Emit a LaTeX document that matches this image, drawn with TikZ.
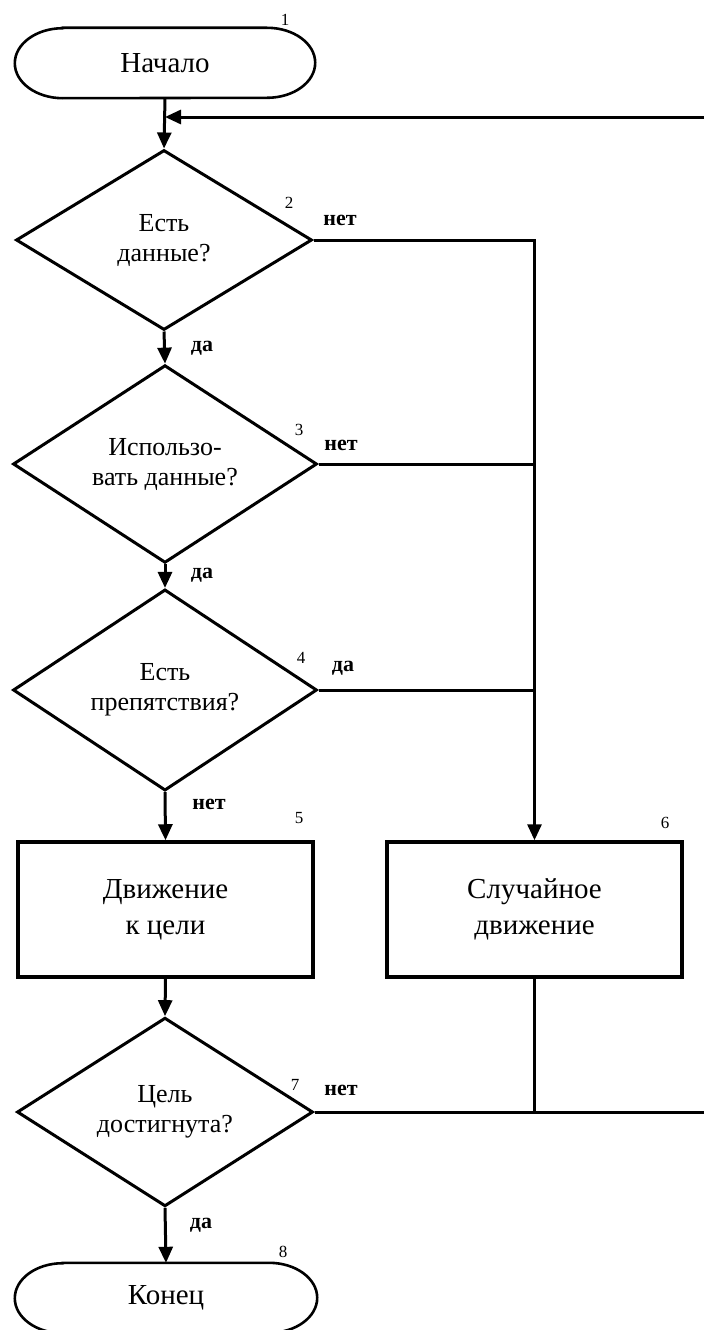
\documentclass[tikz,border=0pt]{standalone}
\usepackage{fontspec}
\setmainfont{Liberation Serif}
\usetikzlibrary{shapes.geometric,arrows.meta}
\tikzset{
  conn/.style={line width=3pt},
  arr/.style={line width=3pt,-{Triangle[width=14pt,length=16pt]}},
  decision/.style={diamond,draw,line width=3pt,inner sep=0pt,align=center,
    minimum width=300pt,minimum height=182pt,font=\fontsize{26}{30}\selectfont},
  process/.style={rectangle,draw,line width=3.5pt,minimum width=295pt,
    minimum height=135pt,align=center,font=\fontsize{29}{36}\selectfont},
  term/.style={minimum width=300pt,minimum height=70pt,inner sep=0pt,
    font=\fontsize{29}{34}\selectfont},
  termline/.style={line width=2.6pt},
  num/.style={font=\fontsize{17}{17}\selectfont,inner sep=0pt},
  ans/.style={font=\bfseries\fontsize{22}{22}\selectfont,inner sep=0pt},
}
\begin{document}
\begin{tikzpicture}[x=1pt,y=1pt]
\useasboundingbox (0,0) rectangle (704,-1330);
\clip (0,0) rectangle (704,-1330);

% start terminal
\node[term] (start) at (165,-63) {Начало};
\draw[termline] ([xshift=48pt]start.north west) -- ([xshift=-48pt]start.north east)
  arc[start angle=90,end angle=-90,x radius=48pt,y radius=35pt]
  -- ([xshift=48pt]start.south west)
  arc[start angle=270,end angle=90,x radius=48pt,y radius=35pt] -- cycle;

% decisions
\node[decision,minimum width=296pt,minimum height=180pt] (d2) at (164,-240) {Есть\\данные?};
\node[decision,minimum width=304pt] (d3) at (165,-464) {Использо-\\вать данные?};
\node[decision,minimum width=304pt,minimum height=186pt] (d4) at (165,-690) {Есть\\препятствия?};

% processes
\node[process] (b5) at (165.5,-909.5) {Движение\\к цели};
\node[process] (b6) at (534.5,-909.5) {Случайное\\движение};

\node[decision,minimum width=296pt,minimum height=178pt] (d7) at (165,-1112) {Цель\\достигнута?};

% end terminal
\node[term,minimum width=302pt] (fin) at (166,-1298) {Конец};
\draw[termline] ([xshift=48pt]fin.north west) -- ([xshift=-48pt]fin.north east)
  arc[start angle=90,end angle=-90,x radius=48pt,y radius=35pt]
  -- ([xshift=48pt]fin.south west)
  arc[start angle=270,end angle=90,x radius=48pt,y radius=35pt] -- cycle;

% coordinates
\coordinate (loopR) at (704,-117);
\coordinate (loopJ) at (165,-117);
\coordinate (botR) at (704,-1112);

% connectors
\draw[arr] (start.south) -- (d2.north);
\draw[arr] (loopR) -- (loopJ);
\draw[arr] (d2.south) -- (d3.north);
\draw[arr] (d3.south) -- (d4.north);
\draw[arr] (d4.south) -- (b5.north);
\draw[arr] (d2.east) -| (b6.north);
\draw[conn] (d3.east) -- (d3.east -| b6.north);
\draw[conn] (d4.east) -- (d4.east -| b6.north);
\draw[arr] (b5.south) -- (d7.north);
\draw[conn] (b6.south) -- (b6.south |- d7.east);
\draw[conn] (d7.east) -- (botR);
\draw[arr] (d7.south) -- (fin.north);

% numbers
\node[num] (n1) at (285,-20) {1};
\node[num] (n2) at (289,-203) {2};
\node[num] (n3) at (299,-430) {3};
\node[num] (n4) at (301,-658) {4};
\node[num] (n5) at (299,-818) {5};
\node[num] (n6) at (665,-823) {6};
\node[num] (n7) at (295,-1085) {7};
\node[num] (n8) at (283,-1252) {8};

% answers
\node[ans] (a2n) at (340,-220) {нет};
\node[ans] (a2y) at (202,-348) {да};
\node[ans] (a3n) at (341,-445) {нет};
\node[ans] (a3y) at (202,-575) {да};
\node[ans] (a4y) at (343,-668) {да};
\node[ans] (a4n) at (209,-804) {нет};
\node[ans] (a7n) at (341,-1090) {нет};
\node[ans] (a7y) at (201,-1225) {да};
\end{tikzpicture}
\end{document}
